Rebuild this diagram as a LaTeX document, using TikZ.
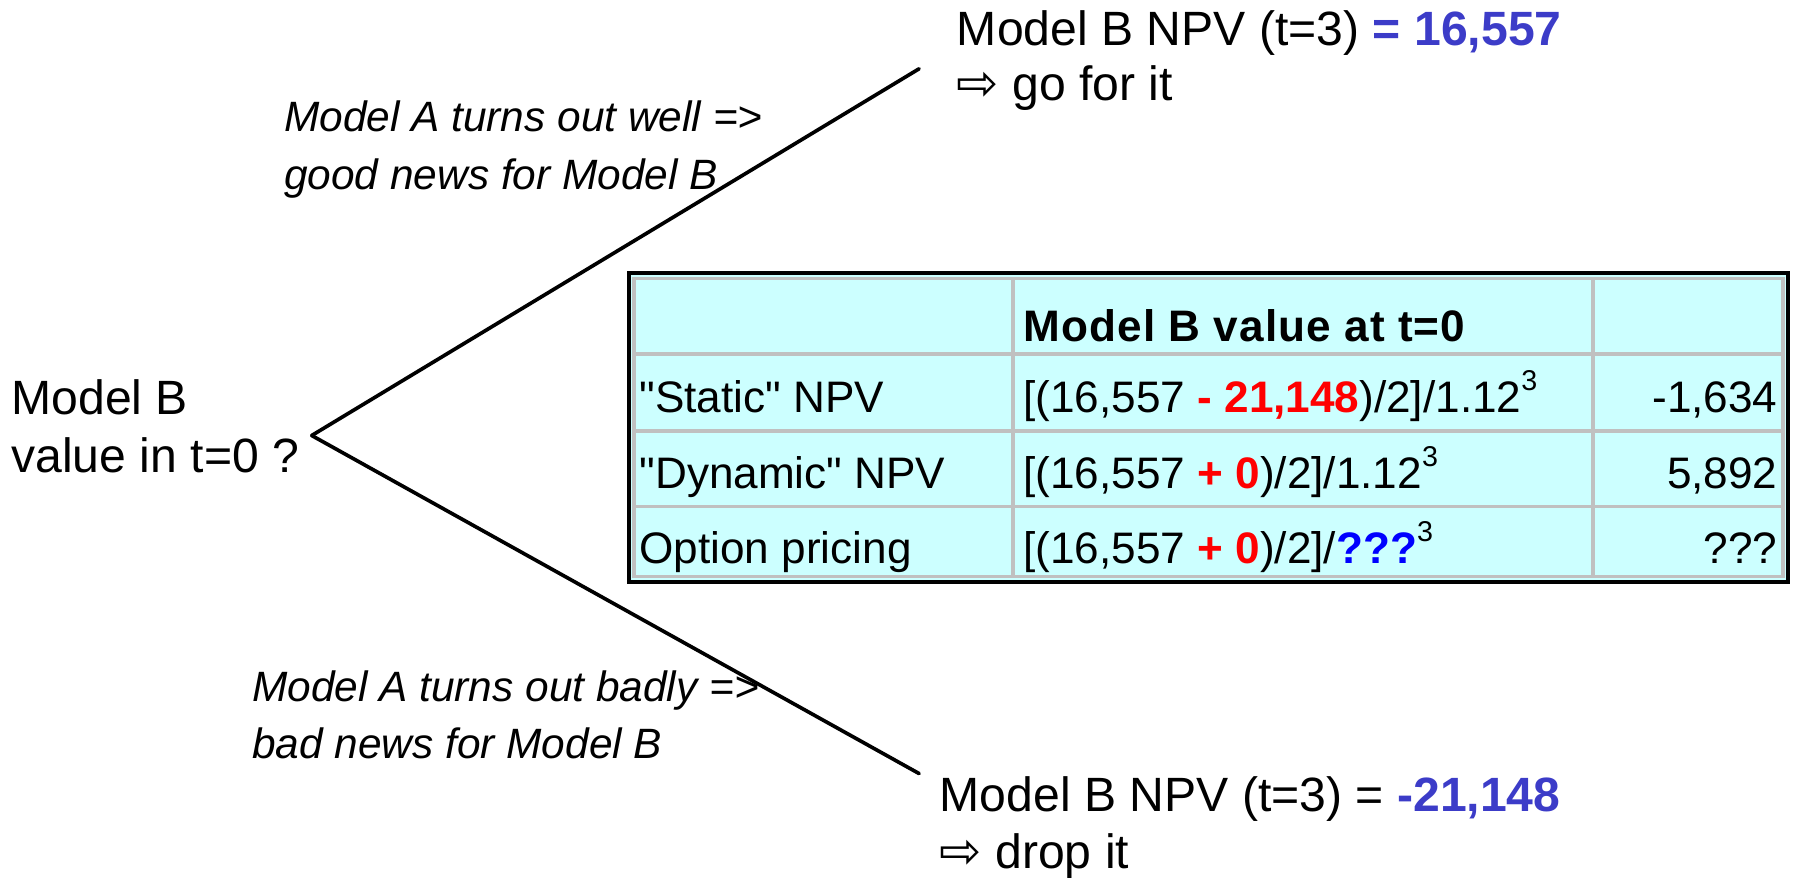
\documentclass[tikz,border=0pt]{standalone}
\usepackage{fontspec}
\setmainfont{Liberation Sans}
\newfontfamily\arrowfont{DejaVu Sans}
\definecolor{cellcyan}{RGB}{204,255,255}
\definecolor{gridgray}{RGB}{192,192,192}
\definecolor{npvblue}{RGB}{60,60,200}
\definecolor{qblue}{RGB}{0,0,255}
\definecolor{hotred}{RGB}{255,0,0}
\newcommand{\bigtxt}{\fontsize{42}{50}\selectfont}
\newcommand{\tabtxt}{\fontsize{38.5}{46}\selectfont}
\newcommand{\labtxt}{\fontsize{37}{46}\selectfont\itshape}
\newcommand{\cubed}{\raisebox{0.5em}{\fontsize{25}{25}\selectfont 3}}
\newcommand{\warrow}{{\arrowfont\fontsize{44}{50}\selectfont ⇨}}
\newcommand{\sq}{\textquotedbl}
\tikzset{
  txt/.style={anchor=base west, inner sep=0pt, outer sep=0pt},
  rtxt/.style={anchor=base east, inner sep=0pt, outer sep=0pt},
  branch/.style={line width=3.2pt, line cap=round},
  gridline/.style={gridgray, line width=3.2pt},
}
\begin{document}
\begin{tikzpicture}[x=1pt,y=-1pt]
\useasboundingbox (0,0) rectangle (1568,768);
% tree
\coordinate (apex) at (272,380);
\coordinate (upend) at (802,60);
\coordinate (lowend) at (802,675);
\draw[branch] (apex) -- (upend);
\draw[branch] (apex) -- (lowend);
% left text
\node[txt] (m1) at (10,362) {\bigtxt Model B};
\node[txt] (m2) at (10,412) {\bigtxt value in t=0 ?};
% top right
\node[txt] (t1) at (835,40) {\bigtxt Model B NPV (t=3) \textcolor{npvblue}{\bfseries = 16,557}};
\node[txt] (t2) at (835,88) {\bigtxt \warrow\ go for it};
% bottom right
\node[txt] (b1) at (820,708) {\bigtxt Model B NPV (t=3) = \textcolor{npvblue}{\bfseries -21,148}};
\node[txt] (b2) at (820,758) {\bigtxt \warrow\ drop it};
% italic labels
\node[txt] (u1) at (248,115) {\labtxt Model A turns out well =>};
\node[txt] (u2) at (248,165) {\labtxt good news for Model B};
\node[txt] (l1) at (220,612) {\labtxt Model A turns out badly =>};
\node[txt] (l2) at (220,662) {\labtxt bad news for Model B};
% table
\fill[cellcyan] (550,240) rectangle (1559,506);
\draw[gridline] (553,243) rectangle (1556,503);
\draw[gridline] (884,243) -- (884,503);
\draw[gridline] (1390,243) -- (1390,503);
\draw[gridline] (553,309) -- (1556,309);
\draw[gridline] (553,376) -- (1556,376);
\draw[gridline] (553,442) -- (1556,442);
\draw[black, line width=3.6pt] (548.5,238.5) rectangle (1560.5,507.5);
\node[txt] (hd) at (893,298) {\tabtxt\bfseries\addfontfeature{LetterSpace=2.5}Model B value at t=0};
\node[txt] (r1a) at (558,360) {\tabtxt \sq Static\sq\ NPV};
\node[txt] (r2a) at (558,426) {\tabtxt \sq Dynamic\sq\ NPV};
\node[txt] (r3a) at (558,492) {\tabtxt Option pricing};
\node[txt] (r1b) at (893,360) {\tabtxt [(16,557 \textcolor{hotred}{\bfseries - 21,148})/2]/1.12\cubed};
\node[txt] (r2b) at (893,426) {\tabtxt [(16,557 \textcolor{hotred}{\bfseries + 0})/2]/1.12\cubed};
\node[txt] (r3b) at (893,492) {\tabtxt [(16,557 \textcolor{hotred}{\bfseries + 0})/2]/\textcolor{qblue}{\bfseries ???}\cubed};
\node[rtxt] (r1c) at (1551,360) {\tabtxt -1,634};
\node[rtxt] (r2c) at (1551,426) {\tabtxt 5,892};
\node[rtxt] (r3c) at (1551,492) {\tabtxt ???};
\end{tikzpicture}
\end{document}
